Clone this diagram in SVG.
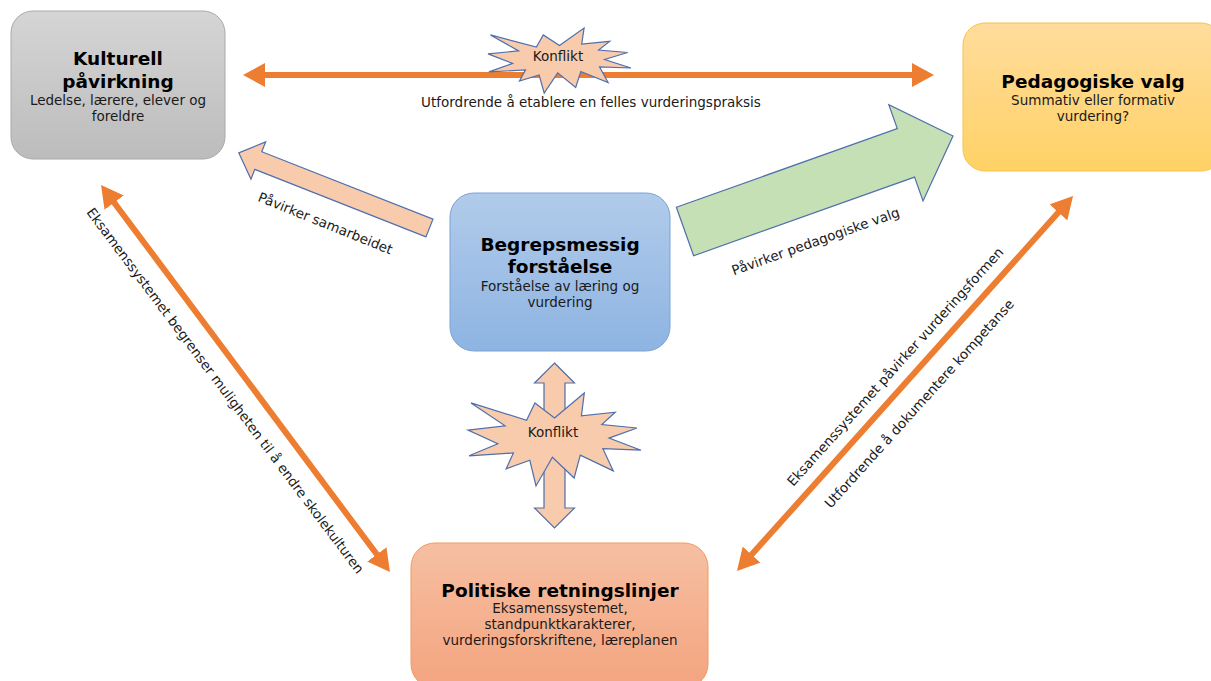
<svg xmlns="http://www.w3.org/2000/svg" width="1211" height="681" viewBox="0 0 1211 681">
<style>
text{font-family:"DejaVu Sans",Verdana,sans-serif;fill:#1a1a1a}
.t{font-size:18.5px;font-weight:bold;fill:#000;text-anchor:middle}
.s{font-size:13.5px;text-anchor:middle}
.l{font-size:13.5px;text-anchor:middle;dominant-baseline:central}
.oa{stroke:#ed7d31;stroke-width:6;fill:none;marker-start:url(#ah);marker-end:url(#ah)}
.blk{stroke:#4f6fad;stroke-width:1.2;stroke-linejoin:miter}
.peach{fill:#f8cbad}
</style>
<defs>
<marker id="ah" markerUnits="userSpaceOnUse" markerWidth="22" markerHeight="24" refX="8" refY="12" orient="auto-start-reverse"><path d="M0,0 L22,12 L0,24 z" fill="#ed7d31"/></marker>
<linearGradient id="gGray" x1="0" y1="0" x2="0" y2="1"><stop offset="0" stop-color="#d5d5d5"/><stop offset="1" stop-color="#bcbcbc"/></linearGradient>
<linearGradient id="gYel" x1="0" y1="0" x2="0" y2="1"><stop offset="0" stop-color="#ffdc9c"/><stop offset="1" stop-color="#ffd266"/></linearGradient>
<linearGradient id="gBlue" x1="0" y1="0" x2="0" y2="1"><stop offset="0" stop-color="#b1cbea"/><stop offset="1" stop-color="#8eb4e2"/></linearGradient>
<linearGradient id="gOr" x1="0" y1="0" x2="0" y2="1"><stop offset="0" stop-color="#f6bfa2"/><stop offset="1" stop-color="#f4a47f"/></linearGradient>
</defs>

<g id="connectors">
<line class="oa" x1="257" y1="75" x2="920" y2="75"/>
<line class="oa" x1="109.4" y1="196.2" x2="381.6" y2="560.8"/>
<line class="oa" x1="1063.7" y1="206.4" x2="746.3" y2="560.6"/>
<polygon class="blk peach" transform="translate(429.5,228) rotate(201.5)" points="0,-9.5 184,-9.5 184,-20 205,0 184,20 184,9.5 0,9.5"/>
<polygon class="blk" fill="#c5e0b4" transform="translate(685,231.5) rotate(-19.6)" points="0,-25.75 234.5,-25.75 234.5,-51 284.5,0 234.5,51 234.5,25.75 0,25.75"/>
<polygon class="blk peach" points="554.5,363 574.5,383 565,383 565,508 574.5,508 554.5,528 534.5,508 544,508 544,383 534.5,383"/>
<g id="conflict-top">
<polygon class="blk peach" points="559.5,45.5 584.1,28 581.7,44 609.7,41.4 598.6,50 627.7,52.5 604.6,59.5 631,68 599.5,66.9 608.1,82.5 580.8,71.5 575.7,87.4 557.7,72.9 544.2,93 539.1,75 519.5,81 525.5,69.9 488.9,71.9 512.6,63.4 488,53.9 518.6,50.9 490.4,34.9 536.4,47 543.3,34.9"/>
<text class="s" x="558" y="61">Konflikt</text>
</g>
<g id="conflict-bottom">
<polygon class="blk peach" points="554.5,418 584.3,393 581.4,415.9 615.2,412.2 601.8,424.5 637,428 609,438.1 641,450.2 602.9,448.7 613.3,470.9 580.3,455.2 574.1,478 552.4,457.3 536,486 529.8,460.3 506.1,468.9 513.4,453 469.1,455.8 497.8,443.7 468,430.1 505.1,425.8 471,402.9 526.6,420.2 534.9,402.9"/>
<text class="s" x="553" y="437">Konflikt</text>
</g>
<text class="s" x="591" y="107">Utfordrende å etablere en felles vurderingspraksis</text>
<text class="l" transform="translate(325.5,223) rotate(22)">Påvirker samarbeidet</text>
<text class="l" transform="translate(815.5,241) rotate(-19.6)">Påvirker pedagogiske valg</text>
<text class="l" transform="translate(225.5,390.5) rotate(53.2)">Eksamenssystemet begrenser muligheten til å endre skolekulturen</text>
<text class="l" transform="translate(895,366.5) rotate(-48)">Eksamenssystemet påvirker vurderingsformen</text>
<text class="l" transform="translate(919,403.5) rotate(-48)">Utfordrende å dokumentere kompetanse</text>
</g>

<g id="node-kulturell">
<rect x="11" y="11" width="214" height="148" rx="22" fill="url(#gGray)" stroke="#a9a9a9"/>
<text class="t" x="118" y="65">Kulturell</text>
<text class="t" x="118" y="88">påvirkning</text>
<text class="s" x="118" y="105">Ledelse, lærere, elever og</text>
<text class="s" x="118" y="121">foreldre</text>
</g>

<g id="node-pedagogiske">
<rect x="963" y="23" width="260" height="148" rx="22" fill="url(#gYel)" stroke="#f6c24a"/>
<text class="t" x="1093" y="88">Pedagogiske valg</text>
<text class="s" x="1093" y="105">Summativ eller formativ</text>
<text class="s" x="1093" y="121">vurdering?</text>
</g>

<g id="node-begrepsmessig">
<rect x="450" y="193" width="220" height="158" rx="24" fill="url(#gBlue)" stroke="#7ba3d6"/>
<text class="t" x="560" y="251">Begrepsmessig</text>
<text class="t" x="560" y="273">forståelse</text>
<text class="s" x="560" y="291">Forståelse av læring og</text>
<text class="s" x="560" y="307">vurdering</text>
</g>

<g id="node-politiske">
<rect x="411" y="543" width="297" height="145" rx="24" fill="url(#gOr)" stroke="#f19a5e"/>
<text class="t" x="560" y="597">Politiske retningslinjer</text>
<text class="s" x="560" y="613">Eksamenssystemet,</text>
<text class="s" x="560" y="629">standpunktkarakterer,</text>
<text class="s" x="560" y="645">vurderingsforskriftene, læreplanen</text>
</g>
</svg>
